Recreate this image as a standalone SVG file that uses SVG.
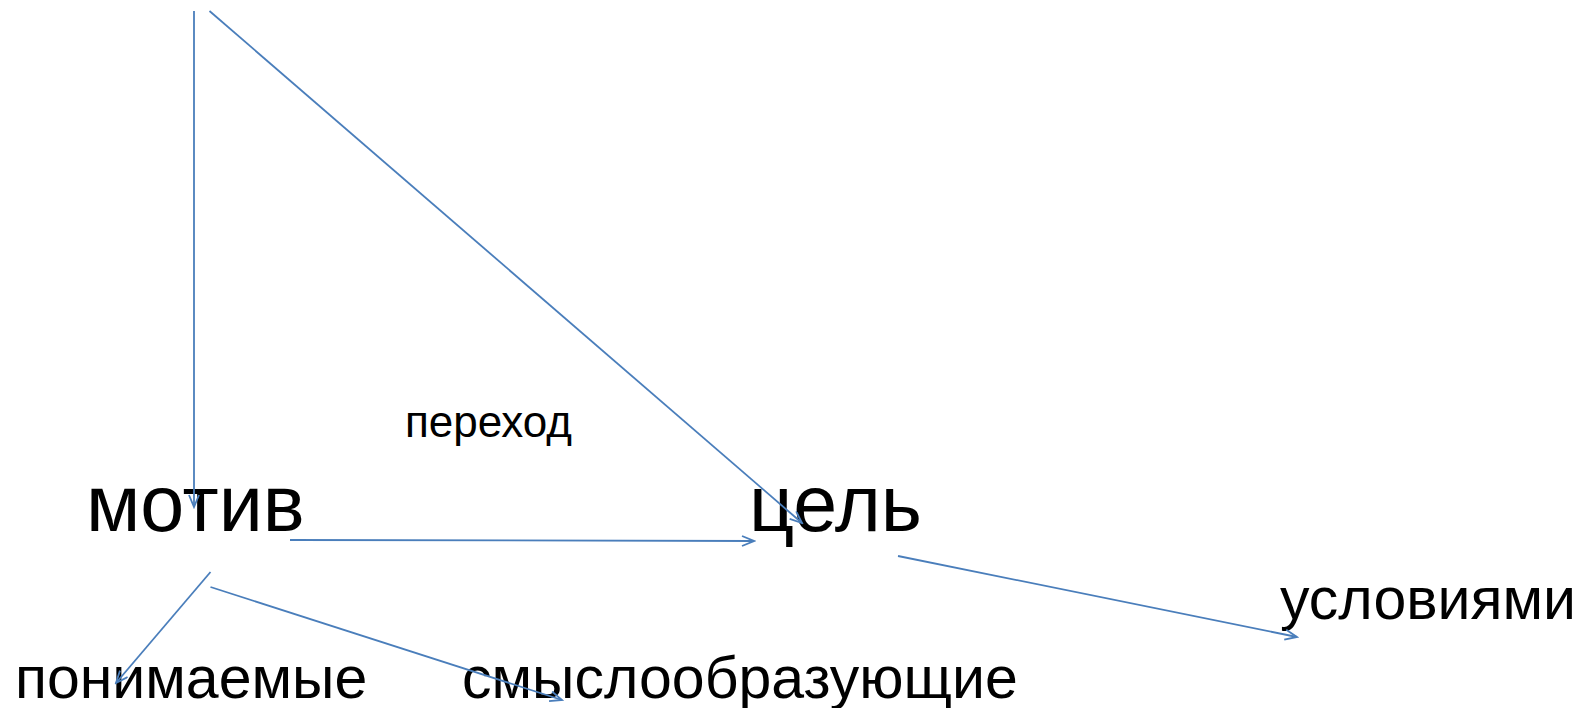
<svg xmlns="http://www.w3.org/2000/svg" width="1587" height="708" viewBox="0 0 1587 708">
<style>
.lbl{font-family:"Liberation Sans",Arial,sans-serif;fill:#000}
.big{font-size:79px}
.mid{font-size:59px}
.sm{font-size:44px}
.c{stroke:#4a7ebb;stroke-width:1.8;fill:none}
</style>
<defs>
<marker id="ah" markerUnits="userSpaceOnUse" markerWidth="15" markerHeight="13" refX="13" refY="5.5" orient="auto">
<path d="M1,0.5 L13,5.5 L1,10.5" fill="none" stroke="#4a7ebb" stroke-width="1.8"/>
</marker>
</defs>
<rect width="1587" height="708" fill="#fff"/>
<g id="motiv"><text class="lbl big" x="86" y="531">мотив</text></g>
<g id="cel"><text class="lbl big" x="749" y="531">цель</text></g>
<g id="perehod"><text class="lbl sm" x="405" y="437">переход</text></g>
<g id="usloviyami"><text class="lbl mid" x="1280" y="619">условиями</text></g>
<g id="ponimaemye"><text class="lbl mid" x="15" y="698">понимаемые</text></g>
<g id="smysl"><text class="lbl mid" x="462" y="698">смыслообразующие</text></g>
<g id="connectors">
<line class="c" x1="194" y1="11" x2="194" y2="507" marker-end="url(#ah)"/>
<line class="c" x1="209.5" y1="11" x2="802" y2="523" marker-end="url(#ah)"/>
<line class="c" x1="290" y1="540" x2="754" y2="541" marker-end="url(#ah)"/>
<line class="c" x1="210.5" y1="572" x2="116" y2="683" marker-end="url(#ah)"/>
<line class="c" x1="210.5" y1="587" x2="562" y2="700" marker-end="url(#ah)"/>
<line class="c" x1="898" y1="556" x2="1297" y2="637" marker-end="url(#ah)"/>
</g>
</svg>
